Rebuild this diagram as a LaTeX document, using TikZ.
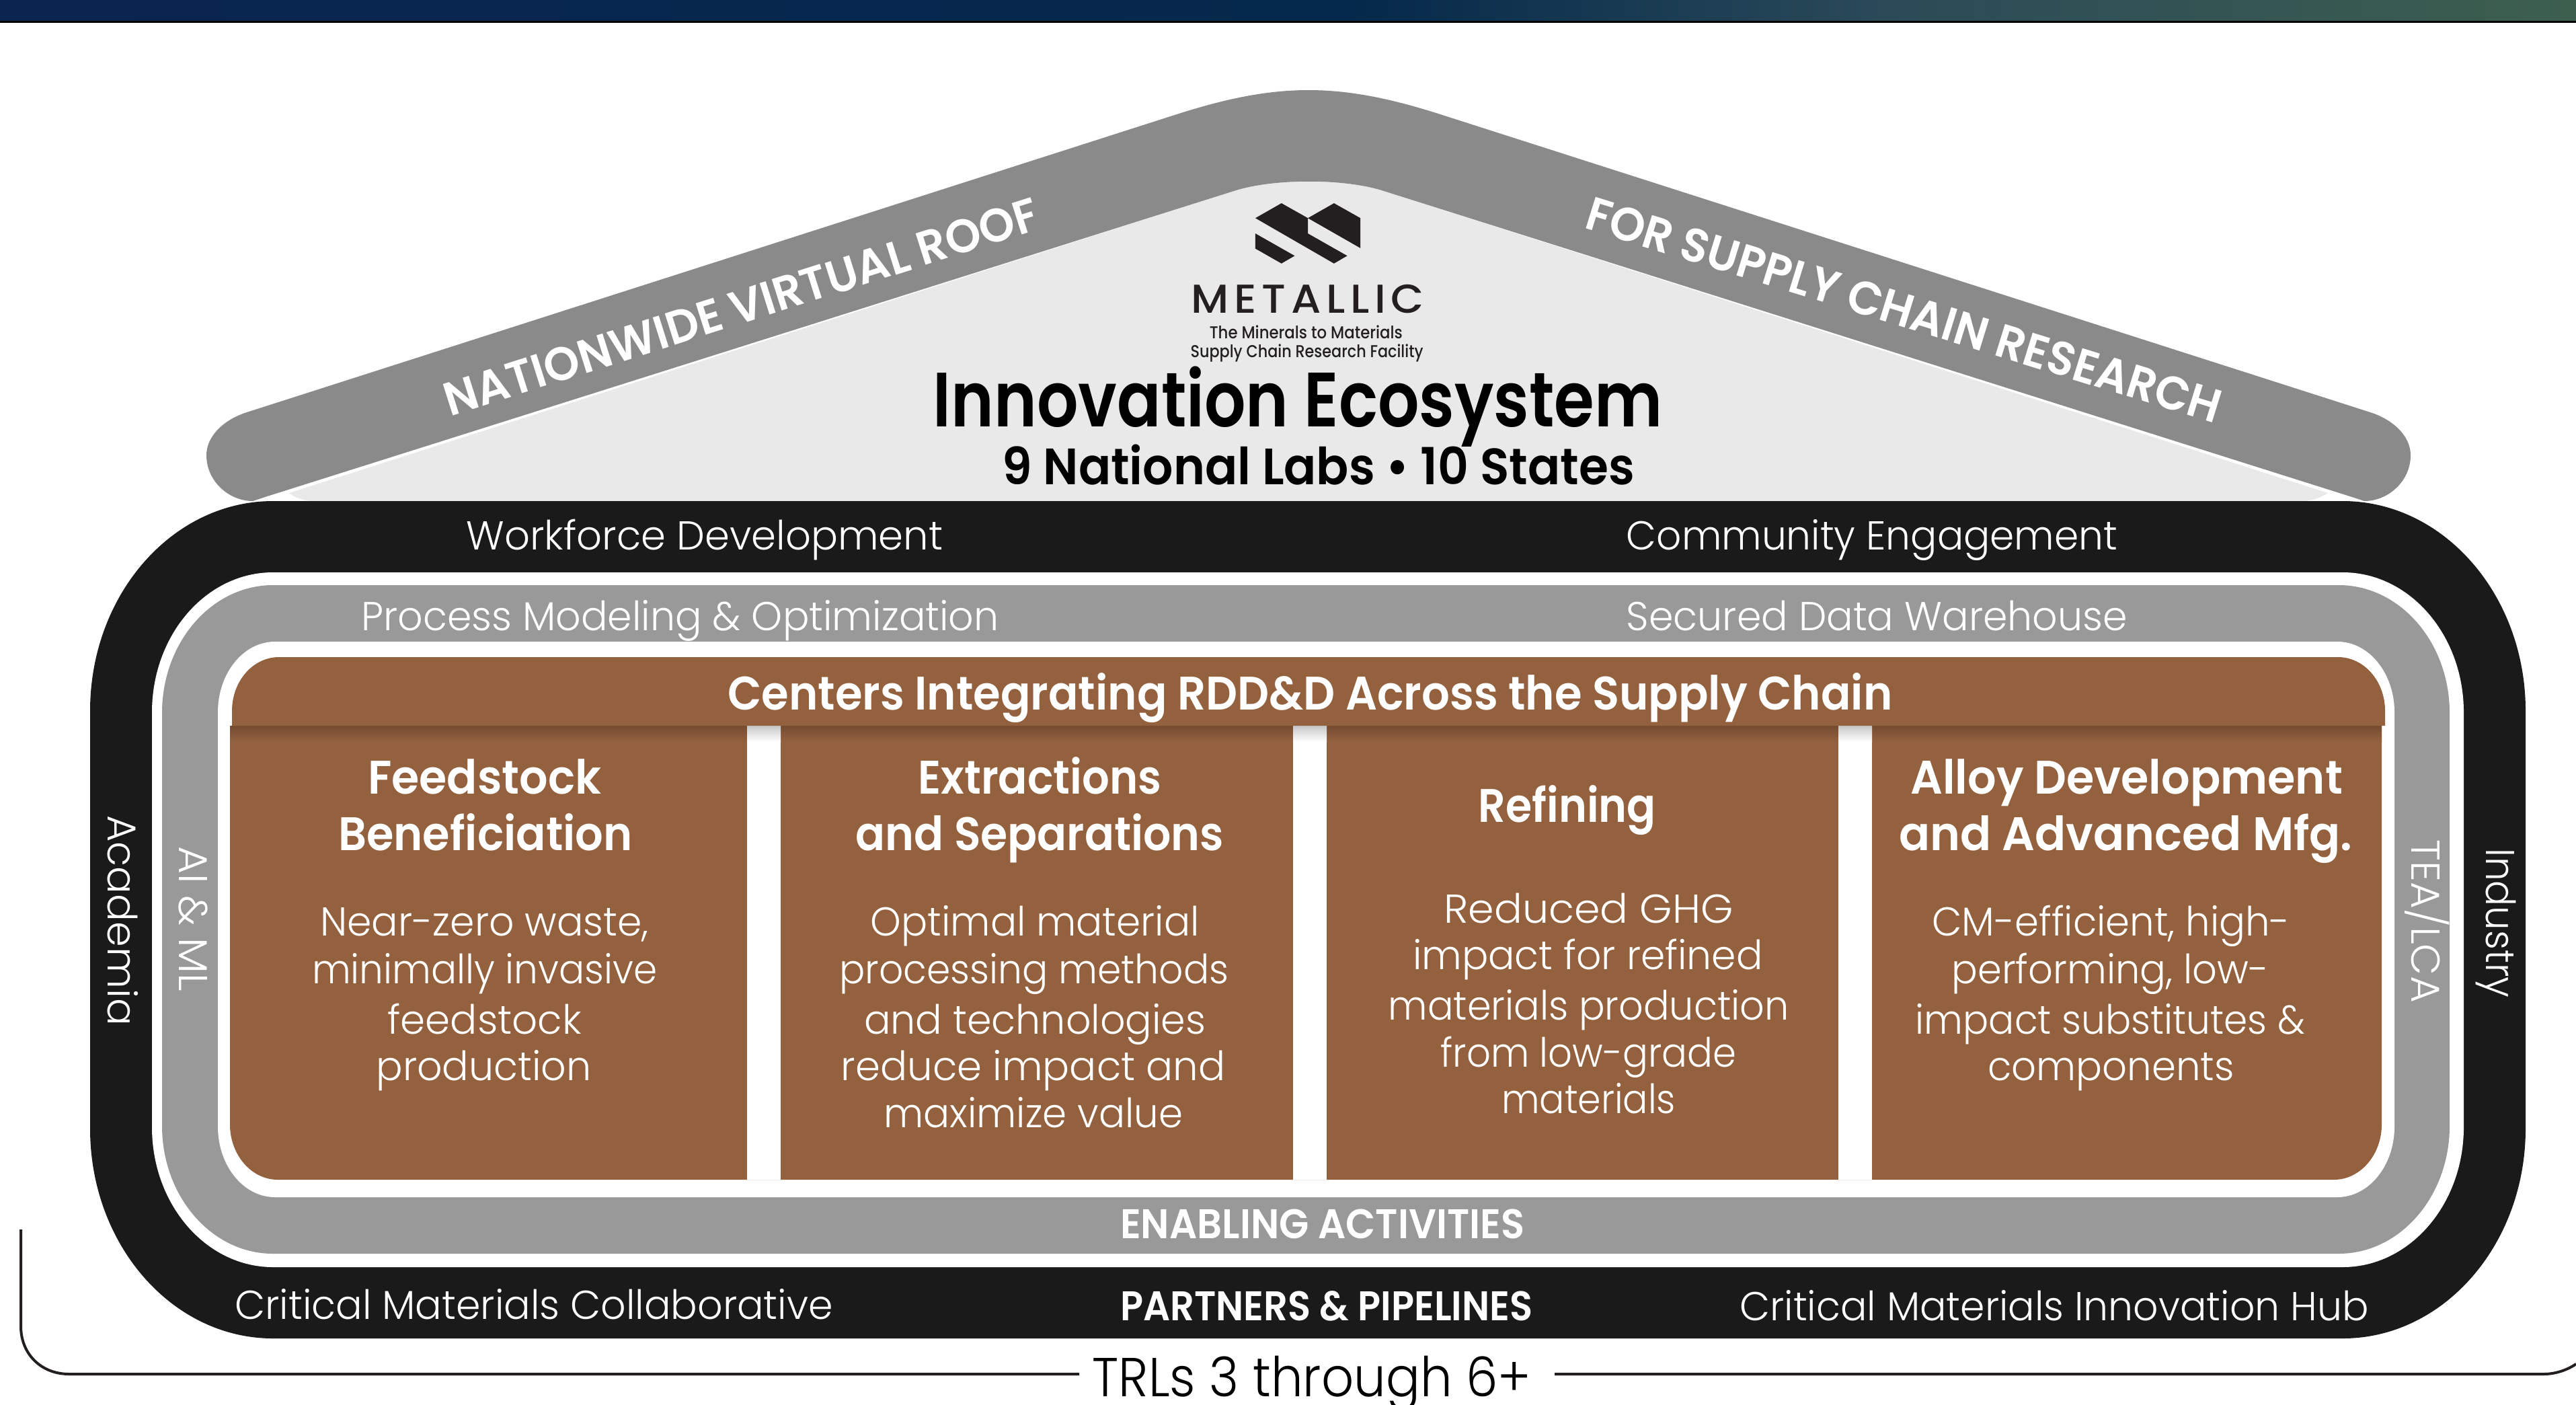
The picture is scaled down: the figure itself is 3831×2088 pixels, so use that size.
\documentclass[tikz,border=0pt]{standalone}
\usepackage{fontspec}
\usepackage{graphicx}
\newfontfamily\pl{Poppins Light}
\newfontfamily\ps{Poppins SemiBold}
\newfontfamily\pr{Poppins Medium}
\newfontfamily\plogo[LetterSpace=12]{Poppins Medium}
\definecolor{blk}{HTML}{1A1A1A}
\definecolor{midgray}{HTML}{999999}
\definecolor{roofgray}{HTML}{8A8A8A}
\definecolor{roofin}{HTML}{E9E9E9}
\definecolor{brn}{HTML}{94613F}
\definecolor{brnd}{HTML}{744C30}
\definecolor{ink}{HTML}{231F20}
\newlength\pxu \setlength\pxu{0.6108pt}
\newcount\tn
\tikzset{tx/.style={anchor=base,inner sep=0pt,outer sep=0pt}}
% [rotation]{x}{baseline y}{width}{size pt}{font}{colour}{text}
\newcommand\Ty[8][0]{\global\advance\tn by 1
  \node[tx,text=#7,rotate=#1] (t\the\tn) at (#2,#3) {\resizebox{#4\pxu}{\height}{#6\fontsize{#5pt}{#5pt}\selectfont #8}};}
% style l t r b rx ry
\newcommand\rrect[7]{\pgfmathsetmacro\kx{.5523*#6}\pgfmathsetmacro\ky{.5523*#7}
  \fill[#1] (#2+#6,#3) -- (#4-#6,#3) .. controls +(\kx,0) and +(0,-\ky) .. (#4,#3+#7)
   -- (#4,#5-#7) .. controls +(0,\ky) and +(\kx,0) .. (#4-#6,#5)
   -- (#2+#6,#5) .. controls +(-\kx,0) and +(0,\ky) .. (#2,#5-#7)
   -- (#2,#3+#7) .. controls +(0,-\ky) and +(-\kx,0) .. (#2+#6,#3) -- cycle;}
\begin{document}
\begin{tikzpicture}[x=.25pt,y=-.25pt]
\useasboundingbox (0,0) rectangle (3831,2088);
\fill[white] (0,0) rectangle (3831,2088);
% top bar
\shade[left color={rgb,255:red,10;green,37;blue,80},right color={rgb,255:red,4;green,40;blue,75}] (0,0) rectangle (2000,31);
\shade[left color={rgb,255:red,4;green,40;blue,75},right color={rgb,255:red,42;green,74;blue,88}] (2000,0) rectangle (2800,31);
\shade[left color={rgb,255:red,42;green,74;blue,88},right color={rgb,255:red,61;green,95;blue,78}] (2800,0) rectangle (3831,31);
\fill[black] (0,31) rectangle (3831,34);
% roof interior
\fill[roofin] (430,733) -- (1835,284) .. controls (1893,265) and (2000,265) .. (2058,284) -- (3462,733) .. controls (3450,741) and (3435,745) .. (3425,745) -- (467,745) .. controls (455,745) and (440,741) .. (430,733) -- cycle;
% rings
\rrect{blk}{134}{745}{3756}{1990}{272}{312}
\rrect{white}{226}{851}{3664}{1884}{180}{208}
\rrect{midgray}{241}{870}{3643}{1864}{165}{190}
\rrect{white}{324}{954}{3561}{1780}{85}{105}
% brown lower block
\fill[brn] (342,1079) -- (3542,1079) -- (3542,1672) .. controls (3542,1717) and (3510,1754) .. (3471,1754) -- (413,1754) .. controls (374,1754) and (342,1717) .. (342,1672) -- cycle;
\shade[top color=brnd,bottom color=brn] (342,1079) rectangle (3542,1103);
% white gaps
\foreach \a/\b in {1111/1161,1923/1973,2734/2784}{
  \fill[white] (\a,1103) rectangle (\b,1754);
  \shade[top color=black!22,bottom color=white] (\a,1079) rectangle (\b,1103);
}
% band
\fill[brn] (345,1079) -- (345,1057) .. controls (345,1013) and (376,977) .. (415,977) -- (3477,977) .. controls (3516,977) and (3547,1013) .. (3547,1057) -- (3547,1079) -- cycle;
% roof
\fill[roofgray] (364,614) -- (1750,170) .. controls (1900,122) and (1992,122) .. (2142,170)
  -- (3528,614) .. controls (3562,626) and (3585,650) .. (3585,677)
  .. controls (3585,715) and (3552,745) .. (3516,745) -- (3498,739)
  -- (2058,284) .. controls (2000,265) and (1893,265) .. (1835,284)
  -- (394,739) -- (376,745) .. controls (340,745) and (307,715) .. (307,677)
  .. controls (307,650) and (330,626) .. (364,614) -- cycle;
% logo
\begin{scope}[shift={(1500,200)},xscale=.4464,yscale=.3571]
\fill[ink] (822,348) -- (909,286) -- (997,348) -- (997,412) -- (1128,505) -- (1084,537) -- cycle;
\fill[ink] (997,348) -- (1084,286) -- (1172,348) -- (1172,473) -- cycle;
\fill[ink] (822,412) -- (953,505) -- (909,537) -- (822,475) -- cycle;
\end{scope}
% bracket
\draw[ink,line width=1pt] (31,1828) -- (31,1972) .. controls (31,2012) and (60,2043) .. (103,2043) -- (1605,2043);
\draw[ink,line width=1pt] (2312,2043) -- (3783,2043) .. controls (3800,2043) and (3818,2037) .. (3831,2028);
% texts
\begin{scope}[x=\pxu,y=-\pxu,shift={(0,0.7)}]
\Ty{796}{190}{141.6}{15}{\plogo}{ink}{METALLIC}
\Ty{795}{205.3}{117.5}{6.4}{\pr}{ink}{The Minerals to Materials}
\Ty{795.5}{217}{141.6}{6.4}{\pr}{ink}{Supply Chain Research Facility}
\Ty{790}{259}{444}{28.6}{\ps}{black}{Innovation Ecosystem}
\Ty{802.5}{294}{385}{19}{\ps}{black}{9 National Labs \textbullet{} 10 States}
\Ty[17.6]{454}{195.6}{378}{17.5}{\ps}{white}{NATIONWIDE VIRTUAL ROOF}
\Ty[-17.2]{1156}{197.6}{403}{17.5}{\ps}{white}{FOR SUPPLY CHAIN RESEARCH}
\Ty{429}{334}{290}{15}{\pl}{white}{Workforce Development}
\Ty{1139.5}{334}{299}{15}{\pl}{white}{Community Engagement}
\Ty{414}{383}{388}{15}{\pl}{white}{Process Modeling \& Optimization}
\Ty{1142.5}{383}{305}{15}{\pl}{white}{Secured Data Warehouse}
\Ty{797.5}{431.5}{709}{17.5}{\ps}{white}{Centers Integrating RDD\&D Across the Supply Chain}
% column 1
\Ty{295}{482.4}{142}{17.5}{\ps}{white}{Feedstock}
\Ty{295.5}{517}{179}{17.5}{\ps}{white}{Beneficiation}
\Ty{295}{569}{200}{15}{\pl}{white}{Near-zero waste,}
\Ty{295}{598}{210}{15}{\pl}{white}{minimally invasive}
\Ty{295}{628.5}{118}{15}{\pl}{white}{feedstock}
\Ty{294.5}{657}{131}{15}{\pl}{white}{production}
% column 2
\Ty{633}{482.4}{148}{17.5}{\ps}{white}{Extractions}
\Ty{633}{517}{224}{17.5}{\ps}{white}{and Separations}
\Ty{630}{569}{200}{15}{\pl}{white}{Optimal material}
\Ty{629.5}{598}{237}{15}{\pl}{white}{processing methods}
\Ty{630}{628.5}{208}{15}{\pl}{white}{and technologies}
\Ty{629}{657}{234}{15}{\pl}{white}{reduce impact and}
\Ty{629}{685.5}{182}{15}{\pl}{white}{maximize value}
% column 3
\Ty{954}{499.5}{108}{17.5}{\ps}{white}{Refining}
\Ty{967}{561}{176}{15}{\pl}{white}{Reduced GHG}
\Ty{966.5}{589.5}{213}{15}{\pl}{white}{impact for refined}
\Ty{967}{620}{244}{15}{\pl}{white}{materials production}
\Ty{967}{648.5}{180}{15}{\pl}{white}{from low-grade}
\Ty{967}{677}{106}{15}{\pl}{white}{materials}
% column 4
\Ty{1294.5}{482.4}{263}{17.5}{\ps}{white}{Alloy Development}
\Ty{1294}{517}{276}{17.5}{\ps}{white}{and Advanced Mfg.}
\Ty{1285}{569}{218}{15}{\pl}{white}{CM-efficient, high-}
\Ty{1284.5}{598}{193}{15}{\pl}{white}{performing, low-}
\Ty{1284.5}{628.5}{237}{15}{\pl}{white}{impact substitutes \&}
\Ty{1285}{657}{150}{15}{\pl}{white}{components}
% side labels
\Ty[-90]{65.5}{559.5}{128}{15}{\pl}{white}{Academia}
\Ty[-90]{109}{558.5}{88}{15}{\pl}{white}{AI \& ML}
\Ty[-90]{1468}{560}{99}{15}{\pl}{white}{TEA/LCA}
\Ty[-90]{1513.5}{561}{91}{15}{\pl}{white}{Industry}
% bottom
\Ty{805}{753}{246}{15.4}{\ps}{white}{ENABLING ACTIVITIES}
\Ty{325}{802}{364}{15}{\pl}{white}{Critical Materials Collaborative}
\Ty{807.5}{803}{251}{15.4}{\ps}{white}{PARTNERS \& PIPELINES}
\Ty{1250.5}{803}{383}{15}{\pl}{white}{Critical Materials Innovation Hub}
\Ty{798.5}{849.3}{267}{20.4}{\pl}{black}{TRLs 3 through 6+}
\end{scope}
\end{tikzpicture}
\end{document}
